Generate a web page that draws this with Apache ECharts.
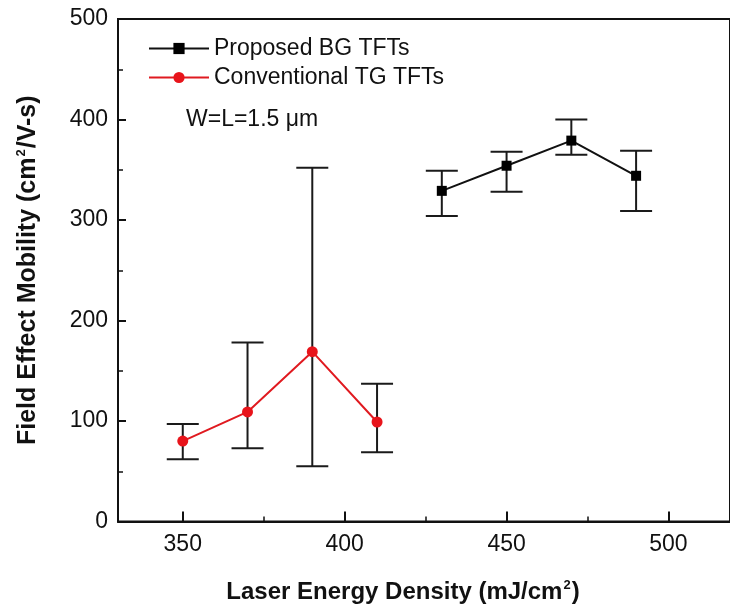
<!DOCTYPE html>
<html>
<head>
<meta charset="utf-8">
<script src="https://cdn.jsdelivr.net/npm/echarts@6/dist/echarts.min.js"></script>
<style>
  html, body { margin: 0; padding: 0; background: #fff; }
  #chart { width: 730px; height: 609px; }
</style>
</head>
<body>
<div id="chart"></div>
<script>
// proposed bottom-gate devices
var bgX = [430, 450, 470, 490]
var bgY = [329, 354, 379, 344]
var bgLow = [304, 328, 365, 309]
var bgHigh = [349, 368, 400, 369]

// conventional top-gate devices
var tgX = [350, 370, 390, 410]
var tgY = [80, 109, 169, 99]
var tgLow = [62, 73, 55, 69]
var tgHigh = [97, 178, 352, 137]

var xTicks = [350, 400, 450, 500]
var xMinorTicks = [375, 425, 475]
var yTicks = [0, 100, 200, 300, 400, 500]

var font = 'Liberation Sans, Arial, sans-serif'
var ink = '#111'

var chart = echarts.init(document.getElementById('chart'))

const pairs = (xs, ys) => xs.map((x, i) => [x, ys[i]])
const errRows = (xs, lo, hi) => xs.map((x, i) => [x, lo[i], hi[i]])

// vertical bar with caps, drawn through the axis scales
const renderErr = (params, api) => {
  let top = api.coord([api.value(0), api.value(2)])
  let bot = api.coord([api.value(0), api.value(1)])
  let half = 16
  let style = {stroke: '#1a1a1a', lineWidth: 2}
  return {
    type: 'group',
    children: [
      {type: 'line', shape: {x1: top[0], y1: top[1], x2: bot[0], y2: bot[1]}, style: style},
      {type: 'line', shape: {x1: top[0] - half, y1: top[1], x2: top[0] + half, y2: top[1]}, style: style},
      {type: 'line', shape: {x1: bot[0] - half, y1: bot[1], x2: bot[0] + half, y2: bot[1]}, style: style}
    ]
  }
}

let titleRich = (size) => ({
  t: {fontSize: size, fontWeight: 'bold', color: ink, fontFamily: font},
  s: {fontSize: 13, fontWeight: 'bold', color: ink, fontFamily: font, verticalAlign: 'top', padding: [0, 1, 14, 1]}
})

let option = {
  animation: false,
  textStyle: {fontFamily: font},
  grid: {
    left: 118,
    right: -6,
    top: 19,
    bottom: 85,
    show: true,
    borderColor: ink,
    borderWidth: 2
  },
  legend: {
    orient: 'vertical',
    left: 143,
    top: 32,
    itemWidth: 60,
    itemHeight: 14,
    itemGap: 6,
    textStyle: {fontSize: 23, color: ink, fontFamily: font},
    data: ['Proposed BG TFTs', 'Conventional TG TFTs']
  },
  graphic: [{
    type: 'text',
    left: 186,
    top: 108,
    style: {text: 'W=L=1.5 μm', fontSize: 23, fill: ink, fontFamily: font}
  }],
  xAxis: [{
    type: 'value',
    min: 330,
    max: 519,
    name: '{t|Laser Energy Density (mJ/cm}{s|2}{t|)}',
    nameLocation: 'middle',
    nameGap: 57,
    nameTextStyle: {rich: titleRich(24), padding: [0, 42, 0, 0]},
    splitLine: {show: false},
    axisLine: {onZero: false, lineStyle: {color: ink, width: 2}},
    axisTick: {inside: true, length: 10, customValues: xTicks, lineStyle: {color: ink, width: 2}},
    axisLabel: {fontSize: 23, color: ink, margin: 12, customValues: xTicks}
  }, {
    // minor ticks only
    type: 'value',
    position: 'bottom',
    min: 330,
    max: 519,
    splitLine: {show: false},
    axisLine: {show: false, onZero: false},
    axisTick: {inside: true, length: 5, customValues: xMinorTicks, lineStyle: {color: ink, width: 1.5}},
    axisLabel: {show: false}
  }],
  yAxis: {
    type: 'value',
    min: 0,
    max: 500,
    interval: 100,
    name: '{t|Field Effect Mobility (cm}{s|2}{t|/V-s)}',
    nameLocation: 'middle',
    nameGap: 76,
    nameTextStyle: {rich: titleRich(25)},
    splitLine: {show: false},
    axisLine: {lineStyle: {color: ink, width: 2}},
    axisTick: {inside: true, length: 8, lineStyle: {color: ink, width: 2}},
    minorTick: {show: true, splitNumber: 2, length: 5, lineStyle: {color: ink, width: 1.5}},
    axisLabel: {fontSize: 23, color: ink, margin: 10}
  },
  series: [{
    name: 'tg-err',
    type: 'custom',
    renderItem: renderErr,
    encode: {x: 0, y: [1, 2]},
    data: errRows(tgX, tgLow, tgHigh),
    z: 1
  }, {
    name: 'bg-err',
    type: 'custom',
    renderItem: renderErr,
    encode: {x: 0, y: [1, 2]},
    data: errRows(bgX, bgLow, bgHigh),
    z: 1
  }, {
    name: 'Proposed BG TFTs',
    type: 'line',
    data: pairs(bgX, bgY),
    symbol: 'rect',
    symbolSize: 10,
    itemStyle: {color: '#000'},
    lineStyle: {color: ink, width: 2},
    z: 3
  }, {
    name: 'Conventional TG TFTs',
    type: 'line',
    data: pairs(tgX, tgY),
    symbol: 'circle',
    symbolSize: 11,
    itemStyle: {color: '#e8141b'},
    lineStyle: {color: '#e01a20', width: 2},
    z: 3
  }]
}

chart.setOption(option)
</script>
</body>
</html>
